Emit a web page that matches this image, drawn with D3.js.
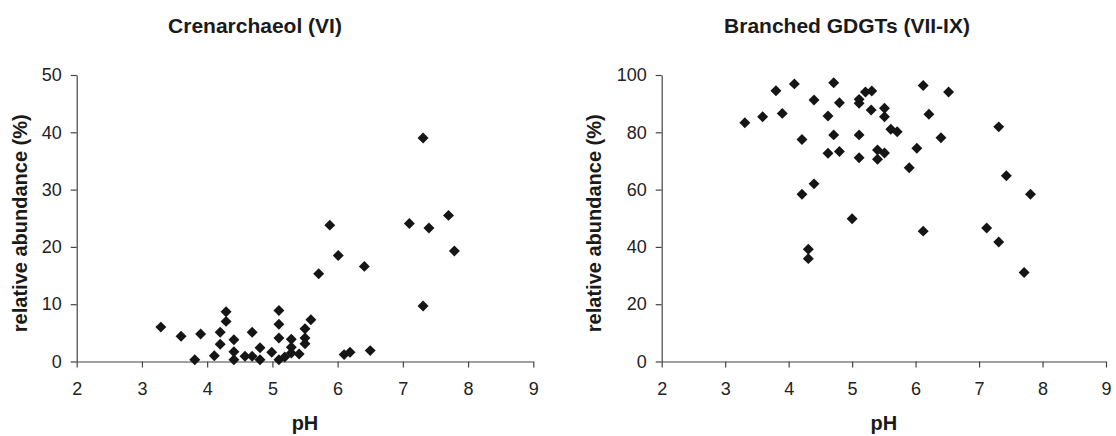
<!DOCTYPE html>
<html lang="en">
	<head>
		<meta charset="UTF-8" />
		<title>Crenarchaeol and branched GDGTs vs pH</title>
		<script src="https://d3js.org/d3.v7.min.js"></script>
		<style>
			body {
				margin: 0;
				padding: 0;
				background: #fff;
				font-family: "Liberation Sans", Arial, sans-serif;
			}
			.axis path,
			.axis line {
				stroke: #444;
				stroke-width: 1.2px;
			}
			.axis text {
				font-family: "Liberation Sans", Arial, sans-serif;
				font-size: 18px;
				fill: #222;
			}
			.title {
				font-size: 21px;
				font-weight: bold;
				fill: #1a1a1a;
			}
			.axis-label {
				font-size: 20px;
				font-weight: bold;
				fill: #1a1a1a;
			}
		</style>
	</head>
	<body>
		<svg width="1116" height="436"></svg>
		<script>
			// Crenarchaeol (VI), % relative abundance vs soil pH
			const crenPH = [
				3.29, 3.6, 3.9, 3.81, 4.11, 4.2, 4.2, 4.29, 4.29, 4.41, 4.41, 4.41,
				4.58, 4.69, 4.69, 4.81, 4.81, 4.99, 5.1, 5.1, 5.1, 5.1, 5.19, 5.29,
				5.29, 5.29, 5.41, 5.5, 5.5, 5.5, 5.59, 5.71, 5.88, 6.01, 6.1, 6.19,
				6.5, 6.41, 7.1, 7.31, 7.31, 7.4, 7.7, 7.79,
			];
			const crenVal = [
				6.0, 4.4, 4.8, 0.3, 1.0, 5.1, 3.0, 8.7, 7.0, 3.8, 1.7, 0.3,
				0.9, 0.9, 5.1, 2.4, 0.3, 1.6, 8.9, 6.5, 4.1, 0.3, 0.8, 3.9,
				2.5, 1.5, 1.3, 5.7, 4.1, 3.1, 7.3, 15.3, 23.8, 18.5, 1.2, 1.6,
				1.9, 16.6, 24.1, 39.0, 9.7, 23.3, 25.5, 19.3,
			];

			// Branched GDGTs (VII-IX)
			const brPH = [
				3.31, 3.59, 3.8, 3.9, 4.09, 4.21, 4.21, 4.31, 4.31, 4.4, 4.4, 4.62,
				4.62, 4.71, 4.71, 4.8, 4.8, 5.0, 5.11, 5.11, 5.11, 5.11, 5.21, 5.31,
				5.3, 5.4, 5.4, 5.51, 5.51, 5.61, 5.71, 5.51, 5.9, 6.02, 6.12, 6.12,
				6.21, 6.4, 6.52, 7.31, 7.43, 7.81, 7.12, 7.31, 7.71,
			];
			const brVal = [
				83.3, 85.4, 94.5, 86.6, 96.9, 77.5, 58.4, 39.2, 35.9, 91.3, 62.0, 85.7,
				72.7, 97.3, 79.1, 90.3, 73.3, 49.8, 91.5, 90.1, 79.1, 71.1, 94.1, 94.4,
				87.8, 73.8, 70.6, 88.4, 85.4, 81.1, 80.2, 72.8, 67.6, 74.4, 96.3, 45.5,
				86.3, 78.1, 94.1, 81.9, 64.8, 58.4, 46.6, 41.7, 31.1,
			];

			const phTicks = [2, 3, 4, 5, 6, 7, 8, 9];
			const crenTicks = [0, 10, 20, 30, 40, 50];
			const brTicks = [0, 20, 40, 60, 80, 100];

			const svg = d3.select("svg");
			const diamond = d3.symbol().type(d3.symbolSquare).size(60);

			function drawPanel(opts) {
				const x = d3.scaleLinear().domain([2, 9]).range([opts.x0, opts.x1]);
				const y = d3
					.scaleLinear()
					.domain([0, opts.yMax])
					.range([361.5, 75]);

				const g = svg.append("g");

				g.append("g")
					.attr("class", "axis")
					.attr("transform", `translate(0,${y(0)})`)
					.call(
						d3
							.axisBottom(x)
							.tickValues(phTicks)
							.tickFormat(d3.format("d"))
							.tickSize(6)
							.tickSizeOuter(0)
							.tickPadding(15)
					);

				g.append("g")
					.attr("class", "axis")
					.attr("transform", `translate(${x(2)},0)`)
					.call(
						d3
							.axisLeft(y)
							.tickValues(opts.yTicks)
							.tickFormat(d3.format("d"))
							.tickSize(6)
							.tickSizeOuter(0)
							.tickPadding(9)
					);

				g.selectAll(".pt")
					.data(opts.xs.map((v, i) => [v, opts.ys[i]]))
					.enter()
					.append("path")
					.attr("class", "pt")
					.attr("d", diamond)
					.attr(
						"transform",
						(d) => `translate(${x(d[0])},${y(d[1])}) rotate(45)`
					)
					.style("fill", "#151515");

				// titles and labels
				g.append("text")
					.attr("class", "title")
					.attr("x", opts.titleX)
					.attr("y", 33)
					.attr("text-anchor", "middle")
					.text(opts.title);

				g.append("text")
					.attr("class", "axis-label")
					.attr("x", (opts.x0 + opts.x1) / 2)
					.attr("y", 430)
					.attr("text-anchor", "middle")
					.text("pH");

				g.append("text")
					.attr("class", "axis-label")
					.attr(
						"transform",
						`translate(${opts.labelX},${(75 + 361.5) / 2 + 5}) rotate(-90)`
					)
					.attr("text-anchor", "middle")
					.text("relative abundance (%)");
			}

			drawPanel({
				x0: 76.7,
				x1: 533.3,
				yMax: 50,
				yTicks: crenTicks,
				xs: crenPH,
				ys: crenVal,
				title: "Crenarchaeol (VI)",
				titleX: 255,
				labelX: 27,
			});

			drawPanel({
				x0: 661.7,
				x1: 1106,
				yMax: 100,
				yTicks: brTicks,
				xs: brPH,
				ys: brVal,
				title: "Branched GDGTs (VII-IX)",
				titleX: 847,
				labelX: 601,
			});
		</script>
	</body>
</html>
